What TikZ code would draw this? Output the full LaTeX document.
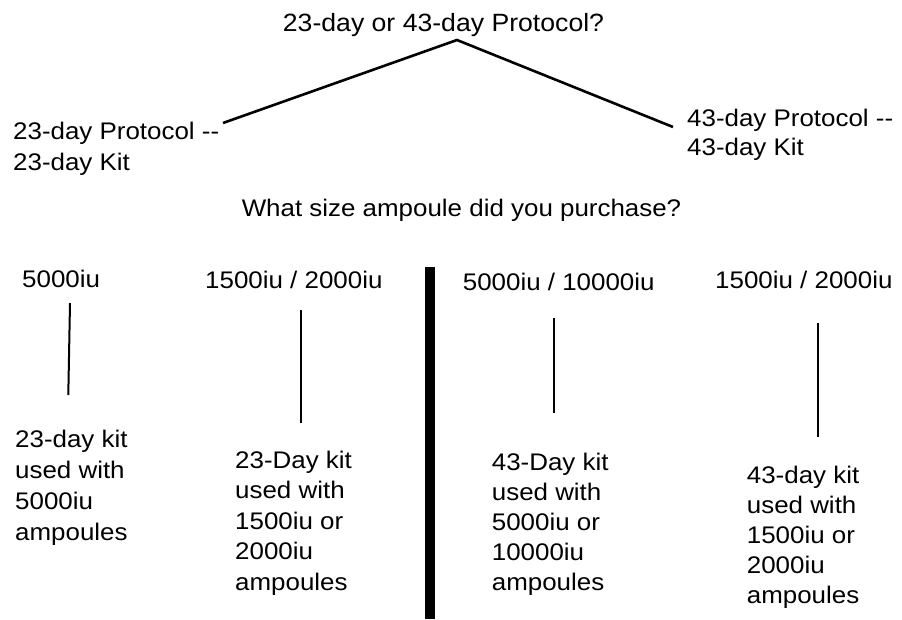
\documentclass[tikz,border=0pt]{standalone}
\usepackage{fontspec}
\setmainfont[FakeStretch=1.08]{Liberation Sans}
\newfontfamily\titlefont[FakeStretch=1.065]{Liberation Sans}
\begin{document}
\begin{tikzpicture}[x=1pt,y=-1pt,
  txt/.style={anchor=base west, inner sep=0pt, align=left, font=\fontsize{24}{30.5}\selectfont},
  ttl/.style={anchor=base, inner sep=0pt, font=\titlefont\fontsize{25}{30}\selectfont},
  conn/.style={line width=2.6pt},
  vconn/.style={line width=2pt},
  divider/.style={line width=10pt}]
\useasboundingbox[fill=white] (0,0) rectangle (902,619);
% question nodes (multi-line nodes are anchored at the baseline of their last line)
\node[ttl] (title) at (443.5,31) {23-day or 43-day Protocol?};
\node[txt, font=\fontsize{24}{31}\selectfont] (p23) at (13,170) {23-day Protocol -{}-\\23-day Kit};
\node[txt, font=\fontsize{24}{29}\selectfont] (p43) at (687,155) {43-day Protocol -{}-\\43-day Kit};
\node[txt, anchor=base] (size) at (461.5,216.7) {What size ampoule did you purchase?};
% connector ends
\coordinate (apex) at (457,40);
\coordinate (lend) at (223,123);
\coordinate (rend) at (673,127);
\draw[conn] (lend) -- (apex) -- (rend);
% ampoule headers
\node[txt] (h1) at (22,287.5) {5000iu};
\node[txt] (h2) at (205,288) {1500iu / 2000iu};
\node[txt] (h3) at (462.7,290) {5000iu / 10000iu};
\node[txt] (h4) at (715,288) {1500iu / 2000iu};
% results
\node[txt, font=\fontsize{24}{30.7}\selectfont] (r1) at (15,540) {23-day kit\\used with\\5000iu\\ampoules};
\node[txt] (r2) at (235,590) {23-Day kit\\used with\\1500iu or\\2000iu\\ampoules};
\node[txt, font=\fontsize{24}{30}\selectfont] (r3) at (491.7,590) {43-Day kit\\used with\\5000iu or\\10000iu\\ampoules};
\node[txt, font=\fontsize{24}{30}\selectfont] (r4) at (746.7,603) {43-day kit\\used with\\1500iu or\\2000iu\\ampoules};
% vertical connectors
\coordinate (c1a) at (70,303);   \coordinate (c1b) at (68.3,395);
\coordinate (c2a) at (301,310);  \coordinate (c2b) at (301,423);
\coordinate (c3a) at (554,318);  \coordinate (c3b) at (554,413);
\coordinate (c4a) at (817.7,323);\coordinate (c4b) at (817.7,437);
\draw[vconn] (c1a) -- (c1b);
\draw[vconn] (c2a) -- (c2b);
\draw[vconn] (c3a) -- (c3b);
\draw[vconn] (c4a) -- (c4b);
% divider
\coordinate (bartop) at (430,267);
\coordinate (barbot) at (430,619);
\draw[divider] (bartop) -- (barbot);
\end{tikzpicture}
\end{document}
